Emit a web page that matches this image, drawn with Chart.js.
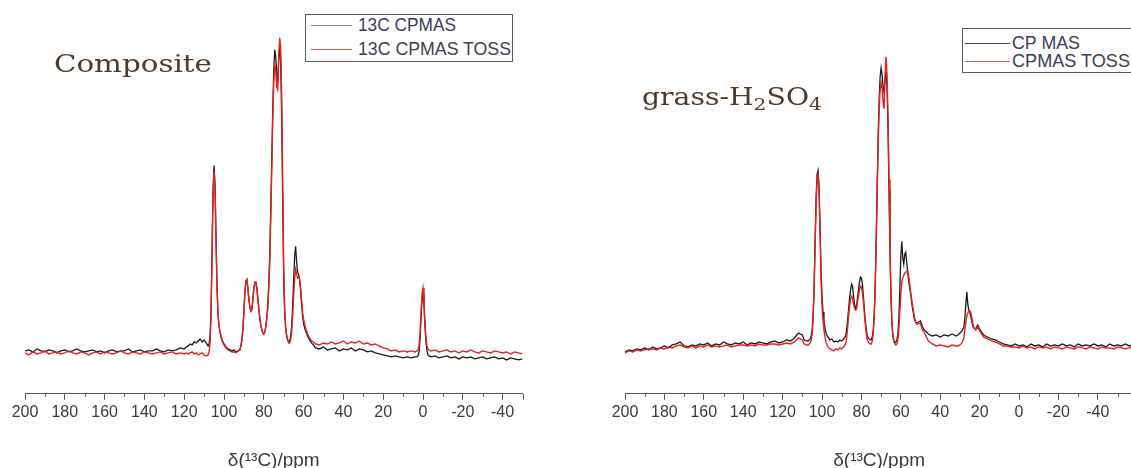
<!DOCTYPE html>
<html><head><meta charset="utf-8">
<script src="https://cdn.jsdelivr.net/npm/chart.js@4/dist/chart.umd.min.js"></script>
<style>
html,body{margin:0;padding:0;background:#fff;width:1131px;height:468px;overflow:hidden;position:relative}
canvas{position:absolute;top:0}
#c1{left:0}
#c2{left:590px}
.ttl{position:absolute;font-family:"DejaVu Serif","Liberation Serif",serif;font-size:24px;line-height:24px;color:#4f3a28;white-space:nowrap;transform-origin:0 0}
.ttl sub{font-size:0.72em;vertical-align:-0.3em;line-height:0}
.leg{position:absolute;border:1.5px solid #5a5a5a;background:#fff;box-sizing:border-box}
.lt{position:absolute;font-family:"Liberation Sans",Arial,sans-serif;font-size:18px;line-height:18px;color:#3b3e55;white-space:nowrap;transform-origin:0 0}
.ll{position:absolute;height:0;border-top:1.8px solid}
</style></head>
<body>
<canvas id="c1" width="540" height="480" style="width:540px;height:480px"></canvas>
<canvas id="c2" width="560" height="480" style="width:560px;height:480px"></canvas>

<div class="ttl" data-w="158" style="left:54px;top:52px">Composite</div>
<div class="ttl" data-w="180" style="left:642px;top:85px">grass-H<sub>2</sub>SO<sub>4</sub></div>

<div class="leg" style="left:305px;top:14px;width:208px;height:48px"></div>
<div class="ll" style="left:311px;top:25px;width:41px;border-color:#8a8a8a"></div>
<div class="ll" style="left:311px;top:49px;width:41px;border-color:#e55050"></div>
<div class="lt" id="lg1" data-w="98" style="left:358px;top:16px"></div>
<div class="lt" id="lg2" data-w="153" style="left:358px;top:40px"></div>

<div class="leg" style="left:962px;top:28px;width:200px;height:45px"></div>
<div class="ll" style="left:965px;top:43px;width:45px;border-color:#444"></div>
<div class="ll" style="left:965px;top:61px;width:45px;border-color:#e55050"></div>
<div class="lt" id="lg3" data-w="68" style="left:1012px;top:34px"></div>
<div class="lt" id="lg4" data-w="118" style="left:1012px;top:52px"></div>

<script>
// ---------- data ----------
const tickLabels = [200,180,160,140,120,100,80,60,40,20,0,-20,-40];
const minorTickValues = [190,170,150,130,110,90,70,50,30,10,-10,-30,-50];
const leftNames = ['13C CPMAS','13C CPMAS TOSS'];
const rightNames = ['CP MAS','CPMAS TOSS'];
const axisTitle = 'δ(¹³C)/ppm';

const leftPpm = [200,198,196,194,192,190,188,186,184,182,
180,178,176,174,172,170,168,166,164,162,
160,158,156,154,152,150,148,146,144,142,
140,138,136,134,132,130,128,126,124,122,
120,
119,118,117,116,115,114,113,112,111,110,109,108,
107.5,107,106.5,106,105.5,105,104.5,104,103.5,103,102.5,102,101.5,101,100,99,
98,97,96,95,94,93,92,
91.5,91,90.5,90,89.5,89,88.5,88,87.5,87,
86.5,86,85.5,85,84.5,84,83.5,83,82.5,82,
81.5,81,80.5,80,79.5,79,78.5,78,77.5,77,
76.5,76,75.5,75,74.5,74,73.5,73,72.5,72,
71.5,71,70.5,70,69.5,69,68.5,68,67.5,67,
66.5,66,65.5,65,64.5,64,63.5,63,62.5,62,
61.5,61,60.5,60,59,58,57,56,55,
54,52,50,48,46,44,42,40,38,36,34,32,30,28,26,24,22,20,18,16,14,12,10,8,6,4,
3,2.5,2,1.5,1,0.5,0,-0.5,-1,-1.5,-2,-2.5,-3,
-4,-6,-8,-10,-12,-14,-16,-18,-20,-22,-24,-26,-28,-30,-32,-34,-36,-38,-40,-42,-44,-46,-48,-50];

const leftCpmas = [3,4,2,5,3,2,4,3,1,3, 4,2,3,5,3,2,3,4,2,3, 1,3,4,2,3,3,5,2,3,4, 2,3,3,5,3,2,4,3,4,6, 5,
7,8,10,9,12,11,13,15,12,14,11,8,
10,18,45,105,165,189,170,115,68,40,28,22,18,14,10,7,
5,4,3,4,2,3,4,
8,14,25,42,62,73,74,66,55,47, 43,45,55,66,72,72,66,56,45,36,
29,24,21,20,22,27,36,48,70,100, 145,195,245,285,305,298,280,272,295,308,
292,235,150,75,40,25,18,14,12,13, 18,28,48,75,98,108,92,82,80,74,
64,50,38,30,23,18,14,11,9,
6,5,7,4,5,6,3,5,4,6,3,5,4,2,3,1,0,-1,-2,-3,-2,-3,-4,-3,-4,-3,
-3,-2,2,14,35,55,60,48,27,12,3,-1,-2,
-3,-2,-4,-3,-2,-4,-3,-5,-3,-4,-3,-5,-4,-3,-5,-4,-3,-5,-4,-6,-4,-5,-6,-5];

const leftToss = [1,-1,2,0,1,3,0,1,2,0, 1,3,1,0,2,1,-1,1,2,0, 2,1,0,1,3,1,0,2,1,0, 2,1,0,1,2,0,1,2,0,1, 0,
1,0,1,2,0,1,-1,0,1,-1,-2,-1,
2,10,38,98,158,183,165,112,65,40,28,22,17,13,9,6,
4,3,2,2,1,3,4,
8,14,25,42,62,73,75,66,55,47, 43,44,54,65,71,72,66,56,45,36,
29,24,21,20,22,27,35,45,65,92, 135,185,235,272,290,284,268,265,300,317,
306,260,175,88,45,27,18,14,11,11, 14,22,38,58,75,85,80,76,77,75,
66,54,42,34,26,20,16,13,12,
10,9,11,10,12,10,11,13,10,12,11,13,10,11,9,10,8,6,5,3,4,2,3,2,3,2,
3,4,8,20,42,60,66,52,32,16,8,5,4,
3,4,2,3,4,2,3,1,3,2,4,2,1,3,2,1,3,2,1,2,0,2,1,0];

const rightPpm = [200,198,196,194,192,190,188,186,184,182,
180,178,176,174,172,170,168,166,164,162,
160,158,156,154,152,150,148,146,144,142,
140,138,136,134,132,130,128,126,124,122,
120,118,116,114,112,110,
109,108,107,106,
105.5,105,104.5,104,103.5,103,102.5,102,101.5,101,100.5,100,99.5,99,98.5,98,
97,96,95,94,93,92,91,90,89,88,
87.5,87,86.5,86,85.5,85,84.5,84,83.5,83,
82.5,82,81.5,81,80.5,80,79.5,79,78.5,78,
77.5,77,76.5,76,75.5,75,74.5,74,73.5,73,
72.5,72,71.5,71,70.5,70,69.5,69,68.5,68,
67.5,67,66.5,66,65.5,65,64.5,64,63.5,63,
62.5,62,61.5,61,60.5,60,59.5,59,58.5,58,
57.5,57,56.5,56,55.5,55,54.5,54,
53,52,51,50,49,48,47,46,
44,42,40,38,36,34,32,31,30,29,28,
27.5,27,26.5,26,25.5,25,24.5,24,23.5,23,
22,21,20,19,18,16,14,12,10,8,6,
4,2,0,-2,-4,-6,-8,-10,-12,-14,-16,-18,-20,-22,-24,-26,-28,-30,-32,-34,
-36,-38,-40,-42,-44,-46,-48,-50,-52,-54,-56,-58];

const rightCpmas = [2,4,3,5,4,6,4,7,5,6, 8,6,9,10,12,8,7,9,8,10, 9,11,8,10,9,12,10,9,11,10,
12,9,11,10,12,11,10,12,13,11, 12,14,13,16,21,19,
14,13,13,15,
18,24,40,70,115,158,180,184,168,128,85,58,42,33,26,21,
17,14,15,12,13,12,14,13,15,18,
24,34,45,56,64,70,68,58,50,46,
48,56,64,72,77,76,70,58,45,33,
24,18,16,15,14,14,17,24,40,70,
115,170,220,255,278,287,280,268,262,275,
283,268,225,165,100,55,30,18,13,11,
12,14,20,35,65,98,113,96,90,100,
102,92,82,73,66,60,52,45,
34,30,32,33,27,24,22,20,
18,19,17,19,18,20,18,19,21,23,27,
36,50,62,50,44,42,38,33,28,26,
25,29,25,22,19,17,15,14,12,10,9,
8,10,8,9,7,10,8,9,7,10,8,9,8,10,8,9,7,10,8,9,
8,10,8,9,7,10,8,9,8,10,8,9];

const rightToss = [1,3,2,4,3,4,5,5,4,6, 5,7,6,8,9,7,6,8,6,8, 7,9,7,8,7,8,9,7,8,9,
9,8,9,8,10,9,9,10,10,9, 10,11,10,12,16,14,
10,9,9,11,
14,20,36,65,108,150,174,180,162,120,75,48,33,24,17,12,
7,5,4,3,5,4,6,5,7,10,
16,26,38,48,55,58,56,50,46,44,
45,52,58,64,68,67,62,52,40,29,
20,14,12,11,10,10,13,20,36,65,
110,160,210,245,265,272,266,252,246,282,
298,280,238,175,110,60,32,18,12,10,
9,10,14,24,42,60,72,76,79,81,
82,83,83,78,70,62,55,48,
36,30,31,30,24,21,17,13,
10,8,9,8,7,9,8,8,9,11,16,
24,32,38,41,43,43,42,37,31,27,
24,27,23,20,17,15,13,12,10,8,8,
7,7,6,8,6,7,5,7,6,7,5,7,6,5,7,6,5,7,6,5,
7,6,5,7,6,6,5,7,6,5,6,7];

// ---------- drawing ----------
document.getElementById('lg1').textContent = leftNames[0];
document.getElementById('lg2').textContent = leftNames[1];
document.getElementById('lg3').textContent = rightNames[0];
document.getElementById('lg4').textContent = rightNames[1];

const minorTicks = {
  id: 'minorTicks',
  afterDraw(chart, args, opts) {
    const s = chart.scales.x, ctx = chart.ctx;
    ctx.save();
    ctx.strokeStyle = '#555'; ctx.lineWidth = 1;
    for (const v of minorTickValues) {
      if (v < s.min || v > s.max) continue;
      const px = Math.round(s.getPixelForValue(v)) + 0.5;
      ctx.beginPath();
      ctx.moveTo(px, s.top);
      ctx.lineTo(px, s.top + (v === opts.endTick ? 6 : 3));
      ctx.stroke();
    }
    ctx.restore();
  }
};

function makeChart(id, ppm, cp, toss, xmin, padL, padR, endTick) {
  return new Chart(document.getElementById(id), {
    type: 'line',
    data: { datasets: [
      { label: 'TOSS', data: ppm.map((x, i) => ({x: x, y: toss[i]})), borderColor: '#e6221f', borderWidth: 1.4, pointRadius: 0, tension: 0, order: 1 },
      { label: 'CP', data: ppm.map((x, i) => ({x: x, y: cp[i]})), borderColor: '#1a1a1a', borderWidth: 1.3, pointRadius: 0, tension: 0, order: 2 }
    ]},
    options: {
      responsive: false, animation: false, events: [],
      layout: { padding: { left: padL, right: padR, top: 0, bottom: 7.8 } },
      plugins: { legend: { display: false }, tooltip: { enabled: false }, minorTicks: { endTick: endTick } },
      scales: {
        x: {
          type: 'linear', reverse: true, min: xmin, max: 200,
          ticks: { stepSize: 20, includeBounds: false, autoSkip: false, maxRotation: 0, padding: 3, color: '#3a3a3a',
                   font: { family: '"Liberation Sans",Arial,sans-serif', size: 16 },
                   callback: (v) => tickLabels.includes(v) ? String(v) : '' },
          grid: { drawOnChartArea: false, tickLength: 6, color: '#555', tickWidth: 1 },
          border: { display: true, color: '#555', width: 1 },
          title: { display: true, text: axisTitle, color: '#3a3a3a',
                   font: { family: '"Liberation Sans",Arial,sans-serif', size: 19 }, padding: { top: 24.4, bottom: 0 } }
        },
        y: { display: false, min: -40, max: 355 }
      }
    },
    plugins: [minorTicks]
  });
}

makeChart('c1', leftPpm, leftCpmas, leftToss, -50, 25, 17.5, -50);
makeChart('c2', rightPpm, rightCpmas, rightToss, -58, 35, 16.7, null);

document.querySelectorAll('[data-w]').forEach(el => {
  const w = el.getBoundingClientRect().width;
  if (w > 0) el.style.transform = 'scaleX(' + (parseFloat(el.dataset.w) / w) + ')';
});
</script>
</body></html>
